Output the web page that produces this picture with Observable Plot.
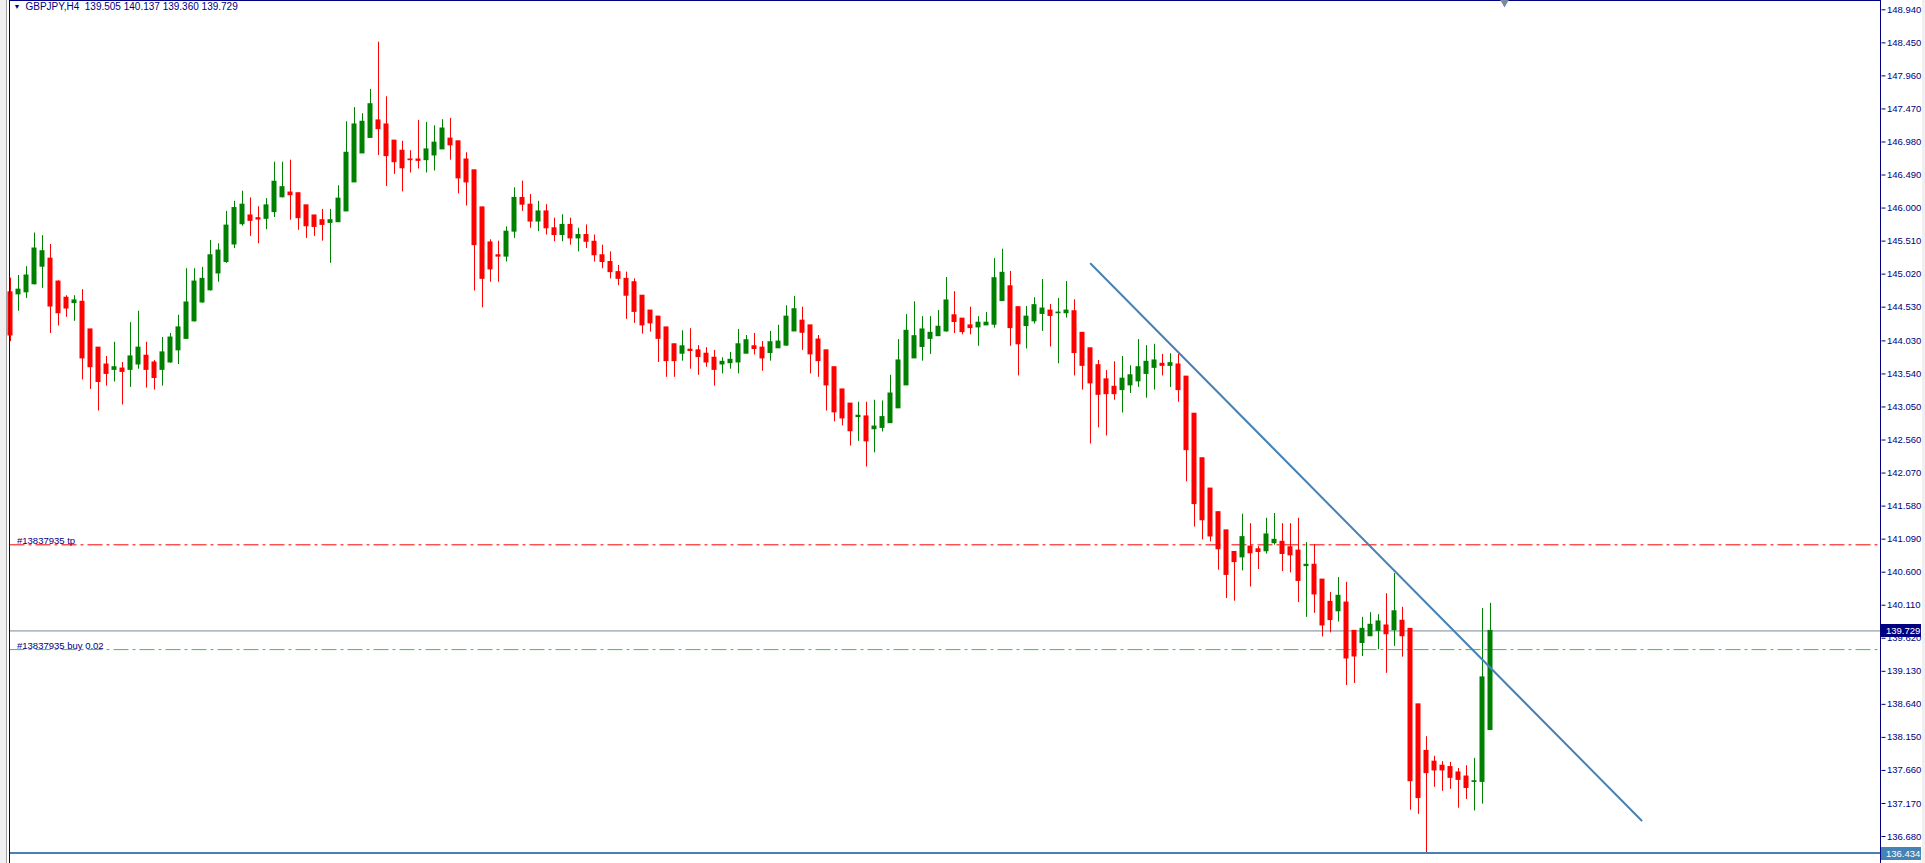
<!DOCTYPE html>
<html><head><meta charset="utf-8">
<script src="https://cdn.jsdelivr.net/npm/d3@7"></script>
<script src="https://cdn.jsdelivr.net/npm/@observablehq/plot@0.6"></script>
<style>
html,body{margin:0;padding:0;background:#fff;overflow:hidden}
#wrap{position:relative;width:1925px;height:863px}
#wrap svg{position:absolute;left:0;top:0}
#lstrip{position:absolute;left:0;top:0;width:6px;height:863px;background:#f0f0f0;border-right:1px solid #a0a0a0}
#rstrip{position:absolute;right:0;top:0;width:3px;height:863px;background:#f0f0f0}
</style></head><body><div id="wrap"></div>
<script>
const symbolHeader = "GBPJPY,H4\u00a0\u00a0139.505 140.137 139.360 139.729";
const opens = [
144.75,144.72,144.75,144.87,145.13,145.25,144.91,144.67,144.59,144.61,
144.20,143.93,143.68,143.60,143.62,143.60,143.68,143.81,143.71,143.60,
143.71,143.89,144.06,144.32,144.60,144.78,145.03,145.20,145.46,145.76,
145.89,145.85,145.84,145.94,146.16,146.23,146.22,146.04,145.89,145.82,
145.78,145.79,145.95,146.38,146.81,147.04,147.30,147.24,147.00,146.85,
146.72,146.72,146.71,146.78,146.87,147.03,146.99,146.72,146.56,146.01,
145.49,145.30,145.28,145.65,146.15,146.05,145.80,145.95,145.70,145.60,
145.75,145.55,145.60,145.50,145.30,145.20,145.05,144.95,144.90,144.70,
144.48,144.39,144.23,143.98,143.84,143.90,143.89,143.84,143.78,143.68,
143.70,143.71,143.84,143.95,143.93,143.85,143.92,143.96,144.17,144.33,
144.26,144.05,143.89,143.64,143.31,143.10,142.90,142.91,142.72,142.74,
142.81,143.03,143.37,143.77,143.94,144.06,144.10,144.17,144.41,144.36,
144.26,144.23,144.26,144.27,144.62,144.84,144.53,144.25,144.32,144.43,
144.48,144.44,144.44,144.47,144.15,143.92,143.67,143.46,143.35,143.30,
143.37,143.43,143.54,143.63,143.69,143.66,143.68,143.50,142.95,142.29,
141.84,141.49,141.22,140.90,140.82,140.98,140.94,140.91,141.03,141.05,
140.97,140.92,140.69,140.71,140.49,140.16,140.02,140.15,139.73,139.55,
139.65,139.73,139.81,139.74,139.88,139.76,138.64,137.95,137.79,137.73,
137.71,137.63,137.57,137.49,137.49,138.26];
const highs = [
144.96,145.00,145.13,145.63,145.59,145.46,144.92,144.70,144.70,144.79,
144.20,143.93,143.80,144.01,143.71,144.30,144.47,144.01,143.74,144.08,
144.14,144.41,145.10,145.10,145.12,145.52,145.47,145.95,146.10,146.25,
146.15,146.02,146.14,146.68,146.68,146.71,146.22,146.04,145.89,145.98,
145.98,146.33,147.28,147.49,147.40,147.76,148.46,147.65,147.00,146.99,
146.85,147.30,147.27,147.22,147.31,147.33,146.99,146.82,146.56,146.01,
145.53,145.51,145.72,146.30,146.40,146.20,146.10,146.05,145.85,145.90,
145.85,145.70,145.75,145.60,145.45,145.35,145.15,145.05,144.95,144.70,
144.48,144.39,144.23,143.98,144.18,144.21,143.96,143.93,143.89,143.78,
143.86,144.20,144.11,144.14,144.02,144.17,144.26,144.55,144.69,144.53,
144.26,144.11,143.89,143.64,143.31,143.10,143.12,143.12,143.15,143.14,
143.52,144.05,144.42,144.61,144.39,144.39,144.48,144.97,144.76,144.36,
144.53,144.39,144.45,145.25,145.39,145.06,144.53,144.54,144.67,144.94,
144.57,144.66,144.91,144.64,144.15,143.92,143.74,143.59,143.72,143.80,
143.66,144.05,143.96,143.98,143.83,143.84,143.83,143.50,142.95,142.29,
141.84,141.49,141.22,140.90,141.46,141.32,140.98,141.40,141.47,141.32,
141.32,141.40,141.04,141.01,140.49,140.30,140.52,140.45,139.73,139.93,
140.00,139.97,140.28,140.58,140.08,139.76,138.64,138.16,137.87,137.79,
137.78,137.69,137.73,137.84,140.06,140.137];
const lows = [
144.02,144.47,144.66,144.86,144.81,144.14,144.25,144.38,144.32,143.45,
143.31,142.99,143.36,143.42,143.08,143.34,143.61,143.33,143.30,143.36,
143.70,143.68,144.05,144.31,144.59,144.77,144.90,145.18,145.40,145.73,
145.58,145.47,145.68,145.86,146.15,145.82,145.67,145.55,145.58,145.51,
145.18,145.79,145.95,146.38,146.81,147.04,146.78,146.32,146.50,146.24,
146.52,146.58,146.52,146.55,146.87,146.71,146.21,146.03,144.77,144.52,
144.90,144.90,145.20,145.55,145.95,145.70,145.65,145.60,145.50,145.50,
145.45,145.35,145.40,145.20,145.10,144.95,144.85,144.35,144.29,144.13,
144.16,143.71,143.49,143.49,143.73,143.61,143.52,143.64,143.36,143.54,
143.61,143.54,143.84,143.82,143.58,143.73,143.92,143.95,144.17,143.89,
143.54,143.49,142.99,142.83,142.77,142.47,142.54,142.16,142.37,142.68,
142.81,143.03,143.37,143.77,143.73,143.83,144.10,144.16,144.14,144.12,
144.12,143.95,144.26,144.22,144.62,143.95,143.51,143.91,144.28,144.17,
143.94,143.69,144.37,143.51,143.30,142.50,142.74,142.62,143.15,142.96,
143.25,143.34,143.18,143.30,143.51,143.34,143.12,141.94,141.27,141.08,
141.05,140.63,140.21,140.17,140.62,140.38,140.64,140.87,141.00,140.61,
140.59,140.15,139.93,139.99,139.64,139.70,139.86,138.92,138.95,139.35,
139.65,139.45,139.10,139.50,139.34,137.07,137.01,136.434,137.41,137.35,
137.38,137.10,137.23,137.06,137.16,138.25];
const closes = [
144.11,144.79,145.00,145.40,145.36,144.54,144.44,144.51,144.63,143.77,
143.64,143.42,143.54,143.64,143.57,143.80,143.93,143.60,143.48,143.86,
144.08,144.23,144.60,144.91,144.95,145.30,145.37,145.74,146.00,146.05,
145.81,145.83,146.04,146.39,146.31,146.19,145.85,145.73,145.72,145.75,
145.82,146.14,146.82,147.24,147.28,147.54,147.17,146.77,146.68,146.59,
146.71,146.70,146.87,146.97,147.18,146.93,146.44,146.38,145.45,144.95,
145.09,145.28,145.65,146.15,146.05,145.80,145.95,145.70,145.60,145.75,
145.55,145.60,145.50,145.30,145.20,145.05,144.95,144.70,144.46,144.26,
144.29,144.06,143.73,143.73,143.95,143.88,143.79,143.71,143.60,143.72,
143.75,143.98,144.04,143.91,143.77,144.01,144.02,144.39,144.50,144.15,
143.83,143.73,143.37,142.97,142.88,142.69,142.92,142.54,142.76,142.90,
143.25,143.74,144.18,144.10,144.20,144.15,144.24,144.63,144.31,144.16,
144.22,144.30,144.30,144.96,145.04,144.22,143.98,144.39,144.56,144.51,
144.40,144.45,144.48,143.85,143.66,143.40,143.23,143.24,143.24,143.47,
143.52,143.64,143.72,143.74,143.66,143.70,143.30,142.41,141.61,141.37,
141.13,140.94,140.56,140.75,141.12,140.88,140.90,141.16,141.08,140.87,
140.85,140.47,140.71,140.27,139.81,139.89,140.25,139.32,139.35,139.76,
139.82,139.87,139.68,140.02,139.65,137.50,137.25,137.62,137.66,137.66,
137.55,137.52,137.40,137.50,139.04,139.729];

const yTicks = [148.94,148.45,147.96,147.47,146.98,146.49,146.00,145.51,145.02,144.53,144.03,143.54,143.05,
  142.56,142.07,141.58,141.09,140.60,140.11,139.62,139.13,138.64,138.15,137.66,137.17,136.68];
const bidPrice = 139.729;
const lowPrice = 136.434;
const tpPrice = 141.006;
const entryPrice = 139.452;
const tpLabel = "#13837935 tp";
const entryLabel = "#13837935 buy 0.02";
const trendIdx = [135.03, 203.88];
const trendPrice = [145.173, 136.917];
const shiftIdx = 186.75;
const xDomain = [-0.0625, 233.8125];
const frameIdx = [-0.125, 233.75];
const yDomain = [136.280, 149.078];

const NAVY = "#000080", RED = "#ff0000", GREEN = "#008000", STEEL = "#4682b4";
const FONT = "'Liberation Sans', Arial, sans-serif";
const candles = opens.map((o, i) => ({i, o, h: highs[i], l: lows[i], c: closes[i], up: closes[i] >= o}));
const trend = trendIdx.map((i, k) => ({i, p: trendPrice[k]}));
const halfBody = 0.3125;

function priceTag(price, bg) {
  return (index, scales, values, dimensions) => {
    const y = Math.round(scales.y(price));
    const x0 = dimensions.width - dimensions.marginRight + 0.5;
    const g = d3.create("svg:g");
    g.append("rect").attr("x", x0).attr("y", y - 6).attr("width", 40).attr("height", 13).attr("fill", bg);
    g.append("text").attr("x", x0 + 5).attr("y", y + 0.5).attr("dy", "0.35em")
      .attr("text-anchor", "start").attr("font-family", FONT)
      .attr("fill", "#fff").attr("font-size", 9.5).text(price.toFixed(3));
    return g.node();
  };
}

const chart = Plot.plot({
  width: 1925, height: 863,
  marginLeft: 9.5, marginRight: 44.5, marginTop: 0, marginBottom: 0,
  style: {background: "transparent", fontFamily: FONT, fontSize: "9.5px", color: NAVY, overflow: "visible"},
  x: {type: "linear", domain: xDomain, axis: null},
  y: {type: "linear", domain: yDomain, axis: "right", ticks: yTicks, tickFormat: d => d.toFixed(3), tickSize: 4, tickPadding: 2, label: null},
  marks: [
    Plot.ruleY([tpPrice], {stroke: RED, strokeDasharray: "15,4,3,4"}),
    Plot.ruleY([entryPrice], {stroke: "#32cd32", strokeDasharray: "15,4,3,4"}),
    Plot.ruleY([bidPrice], {stroke: "#778899"}),
    Plot.text([tpPrice], {y: d => d, text: () => tpLabel, frameAnchor: "left", dx: 7, dy: -1, lineAnchor: "bottom", textAnchor: "start", fill: NAVY}),
    Plot.text([entryPrice], {y: d => d, text: () => entryLabel, frameAnchor: "left", dx: 7, dy: -1, lineAnchor: "bottom", textAnchor: "start", fill: NAVY}),
    Plot.ruleX(candles, {x: "i", y1: "l", y2: "h", stroke: d => d.up ? GREEN : RED, strokeWidth: 1}),
    Plot.rect(candles, {x1: d => d.i - halfBody, x2: d => d.i + halfBody,
      y1: d => Math.min(d.o, d.c), y2: d => Math.max(d.o, d.c), fill: d => d.up ? GREEN : RED,
      insetTop: -0.5, insetBottom: -0.5}),
    Plot.line(trend, {x: "i", y: "p", stroke: STEEL, strokeWidth: 2}),
    Plot.ruleY([lowPrice], {stroke: STEEL, strokeWidth: 2}),
    Plot.ruleX([frameIdx[0]], {stroke: NAVY}),
    Plot.ruleX([frameIdx[1]], {stroke: NAVY}),
    Plot.ruleY([yDomain[1]], {stroke: NAVY, strokeWidth: 1}),
    Plot.text([symbolHeader], {frameAnchor: "top-left", dx: 15.5, dy: 2, lineAnchor: "top", textAnchor: "start", fill: NAVY, fontSize: 10}),
    Plot.text(["\u25BC"], {frameAnchor: "top-left", dx: 3.5, dy: 4, lineAnchor: "top", textAnchor: "start", fill: NAVY, fontSize: 7}),
    Plot.dot([shiftIdx], {x: d => d, frameAnchor: "top", symbol: "triangle", r: 3.2, rotate: 180, fill: "#7a8ba0", stroke: null, dy: 2}),
    priceTag(bidPrice, NAVY),
    priceTag(lowPrice, STEEL)
  ]
});
const wrap = document.getElementById("wrap");
wrap.appendChild(chart);
const ls = document.createElement("div"); ls.id = "lstrip"; wrap.appendChild(ls);
const rs = document.createElement("div"); rs.id = "rstrip"; wrap.appendChild(rs);
</script></body></html>
